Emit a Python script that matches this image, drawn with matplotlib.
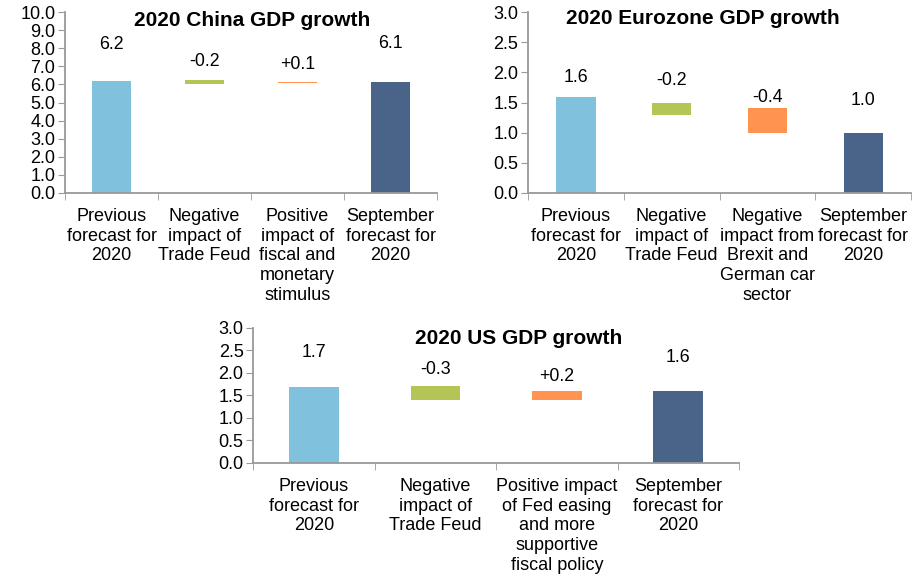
import matplotlib
matplotlib.use('Agg')
from matplotlib import pyplot as plt

plt.rcParams['font.family'] = ['Liberation Sans', 'DejaVu Sans']

colors = ['#80c1de', '#b5c555', '#ff934f', '#4a6489']

china_cats = ['Previous\nforecast for\n2020', 'Negative\nimpact of\nTrade Feud',
              'Positive\nimpact of\nfiscal and\nmonetary\nstimulus', 'September\nforecast for\n2020']
china_low = [0, 6.03, 6.06, 0]
china_high = [6.2, 6.23, 6.12, 6.13]
china_text = ['6.2', '-0.2', '+0.1', '6.1']
china_text_y = [8.2, 7.25, 7.1, 8.25]

euro_cats = ['Previous\nforecast for\n2020', 'Negative\nimpact of\nTrade Feud',
             'Negative\nimpact from\nBrexit and\nGerman car\nsector', 'September\nforecast for\n2020']
euro_low = [0, 1.29, 1.0, 0]
euro_high = [1.59, 1.5, 1.41, 1.0]
euro_text = ['1.6', '-0.2', '-0.4', '1.0']
euro_text_y = [1.92, 1.87, 1.59, 1.54]

us_cats = ['Previous\nforecast for\n2020', 'Negative\nimpact of\nTrade Feud',
           'Positive impact\nof Fed easing\nand more\nsupportive\nfiscal policy', 'September\nforecast for\n2020']
us_low = [0, 1.4, 1.4, 0]
us_high = [1.69, 1.72, 1.61, 1.61]
us_text = ['1.7', '-0.3', '+0.2', '1.6']
us_text_y = [2.46, 2.08, 1.92, 2.35]

fig = plt.figure(figsize=(9.17, 5.74), dpi=100)


def waterfall(rect, title, tpos, cats, low, high, texts, text_y, ymax, ystep):
    ax = fig.add_axes(rect)
    x = range(len(cats))
    heights = [h - l for h, l in zip(high, low)]
    ax.bar(x, heights, bottom=low, width=0.41, color=colors)
    for i in x:
        ax.text(i, text_y[i], texts[i], ha='center', va='center', fontsize=12.8)
    ax.set_xlim(-0.5, len(cats) - 0.5)
    ax.set_ylim(0, ymax)
    n = int(round(ymax / ystep))
    yt = [k * ystep for k in range(n + 1)]
    ax.set_yticks(yt)
    ax.set_yticklabels([f'{v:.1f}' for v in yt], fontsize=13)
    ax.set_xticks(list(x))
    ax.set_xticklabels(cats, fontsize=13, linespacing=1.2)
    ax.set_xticks([i - 0.5 for i in range(len(cats) + 1)], minor=True)
    ax.tick_params(axis='x', which='major', length=0, pad=11)
    ax.tick_params(axis='x', which='minor', length=5, color='#999999', direction='out')
    ax.tick_params(axis='y', length=5, color='#999999', pad=2)
    for s in ['top', 'right']:
        ax.spines[s].set_visible(False)
    for s in ['left', 'bottom']:
        ax.spines[s].set_color('#999999')
        ax.spines[s].set_linewidth(1.3)
    ax.text(tpos[0], tpos[1], title, transform=ax.transAxes, ha='center', va='center',
            fontsize=15, fontweight='bold')
    return ax


waterfall([0.0709, 0.6638, 0.4057, 0.3152], '2020 China GDP growth', (0.503, 0.955),
          china_cats, china_low, china_high, china_text, china_text_y, 10, 1.0)
waterfall([0.5758, 0.6638, 0.4177, 0.3152], '2020 Eurozone GDP growth', (0.457, 0.962),
          euro_cats, euro_low, euro_high, euro_text, euro_text_y, 3, 0.5)
waterfall([0.2762, 0.1934, 0.5297, 0.2352], '2020 US GDP growth', (0.547, 0.92),
          us_cats, us_low, us_high, us_text, us_text_y, 3, 0.5)

fig.savefig('out.png', dpi=100)
